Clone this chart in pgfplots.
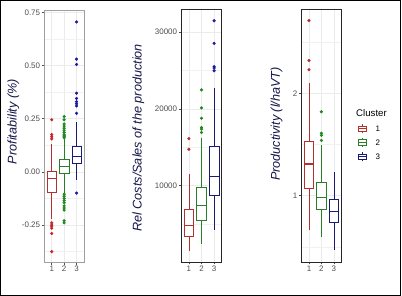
\documentclass[border=0pt]{standalone}
\usepackage{fontspec}
\setmainfont{Liberation Sans}
\usepackage{pgfplots}
\pgfplotsset{compat=1.18}
\usepgfplotslibrary{statistics}
\definecolor{cred}{HTML}{C4262B}
\definecolor{cgreen}{HTML}{23891F}
\definecolor{cblue}{HTML}{1C1C9E}
\definecolor{lred}{HTML}{B3302F}
\definecolor{lgreen}{HTML}{2A7D2A}
\definecolor{lblue}{HTML}{1A1A72}
\definecolor{labcol}{HTML}{15154A}
\definecolor{gridc}{HTML}{EBEBEB}
\definecolor{tickc}{HTML}{4D4D4D}
\pgfplotsset{
  panel/.style={
    scale only axis, anchor=south west,
    xmin=0.4, xmax=3.6, xtick={1,2,3}, xticklabels={1,2,3},
    axis line style={draw=#1, line width=0.7bp},
    xtick pos=bottom, ytick pos=left,
    tick align=outside, major tick length=2.5bp, minor tick length=0pt,
    every tick/.style={draw=tickc, line width=0.5bp},
    xmajorgrids, ymajorgrids, yminorgrids,
    major grid style={draw=gridc, line width=0.6bp},
    minor grid style={draw=gridc!70, line width=0.35bp},
    ticklabel style={font=\fontsize{8}{9}\selectfont, text=tickc},
    yticklabel style={inner sep=1.5bp},
    xticklabel style={inner sep=1.5bp},
    scaled y ticks=false,
    boxplot/draw direction=y,
    boxplot/box extend=0.75,
    boxplot/whisker extend=0,
    boxplot/every box/.style={fill=white},
    boxplot/every median/.style={line width=1.1bp},
  },
  ylab/.style 2 args={every axis y label/.style={at={(axis description cs:#1,#2)}, rotate=90, anchor=center, font=\fontsize{12.7}{14}\selectfont\itshape, text=labcol}},
  bx/.style 2 args={solid, draw=#1, line width=0.55bp, mark=*, mark size=1.3bp, mark options={fill=#2, draw=#2, solid}},
}
\begin{document}
\begin{tikzpicture}
\path[use as bounding box] (0,0) rectangle (402bp,296bp);
\draw[line width=1bp] (0.5bp,0.5bp) rectangle (400.5bp,295.5bp);

% Panel 1: Profitability
\begin{axis}[panel=gray!75, at={(44.3bp,34bp)}, width=39.7bp, height=252bp,
  ymin=-0.424, ymax=0.761,
  ytick={-0.25,0,0.25,0.5,0.75}, yticklabels={-0.25,0.00,0.25,0.50,0.75},
  minor ytick={-0.375,-0.125,0.125,0.375,0.625},
  ylab={-0.78}{0.557}, ylabel={Profitability (\%)}]
\addplot[bx={lred}{cred}, boxplot prepared={draw position=1, lower whisker=-0.22, lower quartile=-0.095, median=-0.03, upper quartile=0.003, upper whisker=0.13}]
  table[row sep=\\, y index=0]{data\\ 0.245\\ 0.175\\ 0.165\\ 0.155\\ -0.24\\ -0.25\\ -0.255\\ -0.265\\ -0.29\\ -0.375\\};
\addplot[bx={lgreen}{cgreen}, boxplot prepared={draw position=2, lower whisker=-0.10, lower quartile=-0.006, median=0.025, upper quartile=0.057, upper whisker=0.155}]
  table[row sep=\\, y index=0]{data\\ 0.26\\ 0.245\\ 0.225\\ 0.215\\ 0.205\\ 0.195\\ 0.185\\ 0.175\\ 0.17\\ 0.165\\ 0.16\\ -0.105\\ -0.115\\ -0.125\\ -0.135\\ -0.145\\ -0.16\\ -0.17\\ -0.18\\ -0.23\\ -0.24\\};
\addplot[bx={lblue}{cblue}, boxplot prepared={draw position=3, lower whisker=-0.04, lower quartile=0.04, median=0.072, upper quartile=0.118, upper whisker=0.235}]
  table[row sep=\\, y index=0]{data\\ -0.10\\ 0.275\\ 0.31\\ 0.32\\ 0.33\\ 0.345\\ 0.37\\ 0.505\\ 0.53\\ 0.705\\};
\end{axis}

% Panel 2: Rel Costs/Sales
\begin{axis}[panel=black!85, at={(181.3bp,34bp)}, width=40.4bp, height=252.7bp,
  ymin=74, ymax=32954,
  ytick={10000,20000,30000}, yticklabels={10000,20000,30000},
  minor ytick={5000,15000,25000},
  ylab={-1.064}{0.491}, ylabel={Rel Costs/Sales of the production}]
\addplot[bx={lred}{cred}, boxplot prepared={draw position=1, lower whisker=1540, lower quartile=3360, median=4800, upper quartile=6930, upper whisker=11520}]
  table[row sep=\\, y index=0]{data\\ 14740\\ 16130\\};
\addplot[bx={lgreen}{cgreen}, boxplot prepared={draw position=2, lower whisker=2470, lower quartile=5440, median=7430, upper quartile=9780, upper whisker=16180}]
  table[row sep=\\, y index=0]{data\\ 16920\\ 17360\\ 17580\\ 18780\\ 20130\\ 22470\\};
\addplot[bx={lblue}{cblue}, boxplot prepared={draw position=3, lower whisker=4200, lower quartile=8750, median=11220, upper quartile=15130, upper whisker=22720}]
  table[row sep=\\, y index=0]{data\\ 24960\\ 25310\\ 25500\\ 28520\\ 31470\\};
\end{axis}

% Panel 3: Productivity
\begin{axis}[panel=black!85, at={(301.5bp,34bp)}, width=39.8bp, height=252.7bp,
  ymin=0.353, ymax=2.82,
  ytick={1,2}, yticklabels={1,2},
  minor ytick={0.5,1.5,2.5},
  ylab={-0.623}{0.546}, ylabel={Productivity (l/haVT)}]
\addplot[bx={lred}{cred}, boxplot prepared={draw position=1, lower whisker=0.67, lower quartile=1.07, median=1.31, upper quartile=1.53, upper whisker=2.10}]
  table[row sep=\\, y index=0]{data\\ 2.23\\ 2.32\\ 2.71\\};
\addplot[bx={lgreen}{cgreen}, boxplot prepared={draw position=2, lower whisker=0.60, lower quartile=0.87, median=0.985, upper quartile=1.13, upper whisker=1.50}]
  table[row sep=\\, y index=0]{data\\ 1.54\\ 1.59\\ 1.61\\ 1.82\\};
\addplot[bx={lblue}{cblue}, boxplot prepared={draw position=3, lower whisker=0.47, lower quartile=0.74, median=0.85, upper quartile=0.965, upper whisker=1.235}]
  coordinates {};
\end{axis}

% Legend
\node[anchor=west, inner sep=0pt, font=\fontsize{9.7}{11}\selectfont] at (356bp,182.7bp) {Cluster};
\foreach \yy/\cc/\lab in {167.3/lred/1, 153.7/lgreen/2, 139.3/lblue/3}{
  \draw[\cc, line width=0.55bp] (362bp,\yy bp-4.6bp) -- (362bp,\yy bp+4.6bp);
  \draw[\cc, line width=0.55bp, fill=white] (358.2bp,\yy bp-2.6bp) rectangle (365.8bp,\yy bp+2.6bp);
  \draw[\cc, line width=0.9bp] (358.2bp,\yy bp) -- (365.8bp,\yy bp);
  \node[anchor=west, inner sep=0pt, font=\fontsize{8}{9}\selectfont] at (375.5bp,\yy bp) {\lab};
}
\end{tikzpicture}
\end{document}
